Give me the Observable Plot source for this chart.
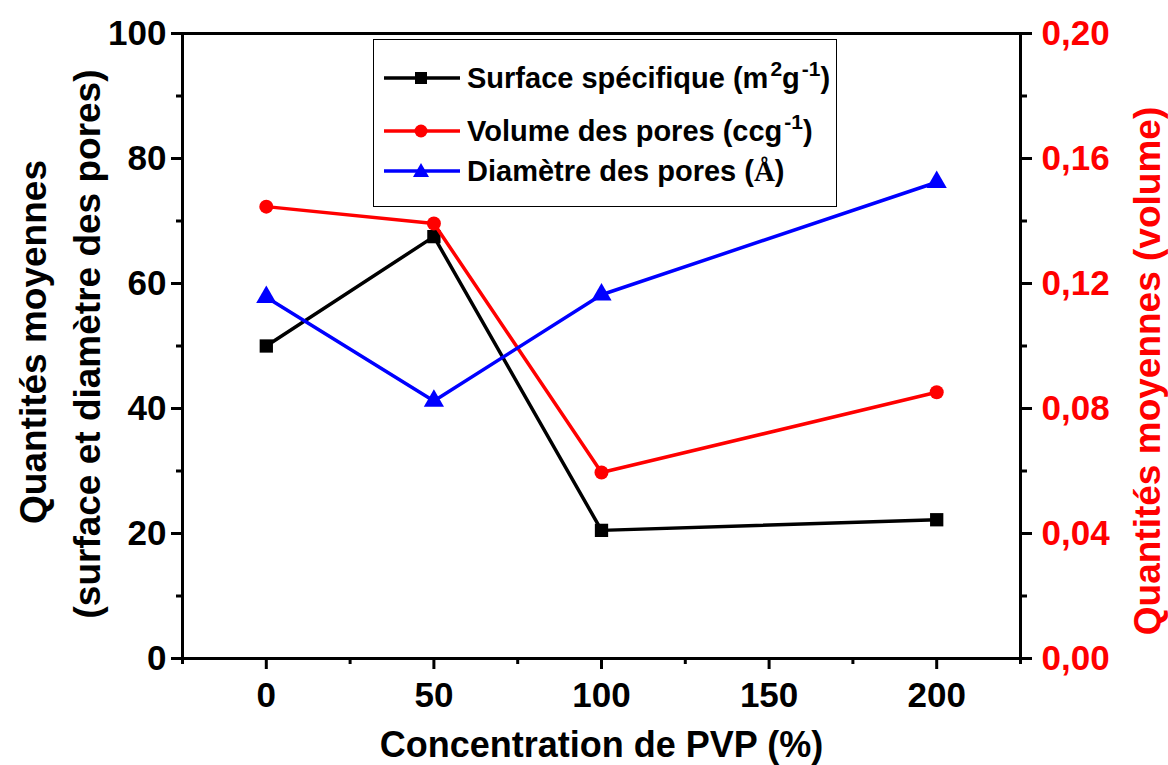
<!DOCTYPE html>
<html><head><meta charset="utf-8">
<script src="https://cdn.jsdelivr.net/npm/d3@7"></script>
<script src="https://cdn.jsdelivr.net/npm/@observablehq/plot@0.6"></script>
<style>
body{margin:0;background:#fff;}
#wrap{position:relative;width:1168px;height:765px;font-family:"Liberation Sans",Arial,sans-serif;font-weight:bold;}
#legend{position:absolute;left:373px;top:39px;width:464px;height:168px;border:1.5px solid #000;box-sizing:border-box;background:#fff;}
.row{position:absolute;left:0;height:40px;width:100%;}
.row svg{position:absolute;left:10px;top:0;}
.row .lbl{position:absolute;left:93px;top:0;line-height:40px;font-size:29px;white-space:nowrap;color:#000;}
.row sup{font-size:21px;vertical-align:12px;line-height:0;margin-left:2px;}
</style></head><body><div id="wrap"></div>
<script>
// Data
const concentrations = [0, 50, 100, 200];
const surface  = [50.0, 67.5, 20.5, 22.2];      // m2/g (left axis)
const volume   = [0.1446, 0.1392, 0.0595, 0.0852]; // cc/g (right axis)
const diametre = [57.8, 41.2, 58.2, 76.2];      // Å (left axis)

const xTicks = [0, 50, 100, 150, 200];
const xMinor = [-25, 25, 75, 125, 175, 225];
const yTicks = [0, 20, 40, 60, 80, 100];
const yMinor = [10, 30, 50, 70, 90];
const leftMax = 100, volMax = 0.20;

const table = concentrations.map((c, i) => ({c, s: surface[i], v: volume[i], d: diametre[i]}));
const toLeft = v => v * leftMax / volMax;

const chart = Plot.plot({
  width: 1168, height: 765,
  marginLeft: 182, marginRight: 148, marginTop: 33, marginBottom: 107,
  x: {domain: [-25, 225]},
  y: {domain: [0, 100]},
  style: "font-family:'Liberation Sans',Arial,sans-serif;font-weight:bold;font-size:35px;background:#fff;overflow:visible;",
  marks: [
    Plot.axisX(xTicks, {tickSize: 11, tickPadding: 13, strokeWidth: 3, label: null, fontSize: 35}),
    Plot.axisX(xMinor, {tickSize: 6, strokeWidth: 3, label: null, tickFormat: () => ""}),
    Plot.axisY(yTicks, {anchor: "left", tickSize: 11, tickPadding: 5, strokeWidth: 3, label: null, fontSize: 35}),
    Plot.axisY(yMinor, {anchor: "left", tickSize: 6, strokeWidth: 3, label: null, tickFormat: () => ""}),
    Plot.axisY(yTicks, {anchor: "right", tickSize: 11, tickPadding: 10, strokeWidth: 3, stroke: "black", fill: "#ff0000", label: null, fontSize: 35,
      tickFormat: v => (v * volMax / leftMax).toFixed(2).replace(".", ",")}),
    Plot.axisY(yMinor, {anchor: "right", tickSize: 6, strokeWidth: 3, stroke: "black", label: null, tickFormat: () => ""}),
    Plot.frame({stroke: "black", strokeWidth: 3}),
    Plot.line(table, {x: "c", y: "s", stroke: "black", strokeWidth: 3.5}),
    Plot.dot(table, {x: "c", y: "s", symbol: "square", r: 7.5, fill: "black", stroke: "none"}),
    Plot.line(table, {x: "c", y: d => toLeft(d.v), stroke: "#ff0000", strokeWidth: 3.5}),
    Plot.dot(table, {x: "c", y: d => toLeft(d.v), symbol: "circle", r: 7, fill: "#ff0000", stroke: "none"}),
    Plot.line(table, {x: "c", y: "d", stroke: "#0000ff", strokeWidth: 3.5}),
    Plot.dot(table, {x: "c", y: "d", symbol: "triangle", r: 7.5, fill: "#0000ff", stroke: "none"}),
    Plot.text(["Quantités moyennes"], {frameAnchor: "left", textAnchor: "middle", lineAnchor: "middle", rotate: -90, dx: -148, dy: -4, fontSize: 37, fontWeight: "bold", fill: "black"}),
    Plot.text(["(surface et diamètre des pores)"], {frameAnchor: "left", textAnchor: "middle", lineAnchor: "middle", rotate: -90, dx: -94, dy: -2, fontSize: 37, fontWeight: "bold", fill: "black"}),
    Plot.text(["Quantités moyennes (volume)"], {frameAnchor: "right", textAnchor: "middle", lineAnchor: "middle", rotate: -90, dx: 128, dy: 25, fontSize: 37, fontWeight: "bold", fill: "#ff0000"}),
    Plot.text(["Concentration de PVP (%)"], {frameAnchor: "bottom", textAnchor: "middle", lineAnchor: "middle", dy: 87, fontSize: 36, fontWeight: "bold", fill: "black"})
  ]
});
const wrap = document.getElementById("wrap");
wrap.appendChild(chart);

// Legend (HTML overlay)
const legendItems = [
  {color: "#000", shape: "square", html: "Surface spécifique (m<sup>2</sup>g<sup>-1</sup>)", top: 18},
  {color: "#ff0000", shape: "circle", html: "Volume des pores (ccg<sup>-1</sup>)", top: 71},
  {color: "#0000ff", shape: "triangle", html: "Diamètre des pores (<span style=\"font-family:'Liberation Serif',serif\">Å</span>)", top: 111}
];
const legend = document.createElement("div");
legend.id = "legend";
for (const it of legendItems) {
  const row = document.createElement("div");
  row.className = "row";
  row.style.top = it.top + "px";
  let m = "";
  if (it.shape === "square") m = `<rect x="31" y="14" width="12" height="12" fill="${it.color}"/>`;
  if (it.shape === "circle") m = `<circle cx="37" cy="20" r="6.5" fill="${it.color}"/>`;
  if (it.shape === "triangle") m = `<path d="M37,12 L45,26 L29,26 Z" fill="${it.color}"/>`;
  row.innerHTML = `<svg width="80" height="40"><line x1="0" y1="20" x2="76" y2="20" stroke="${it.color}" stroke-width="3.5"/>${m}</svg><div class="lbl">${it.html}</div>`;
  legend.appendChild(row);
}
wrap.appendChild(legend);
</script>
</body></html>
